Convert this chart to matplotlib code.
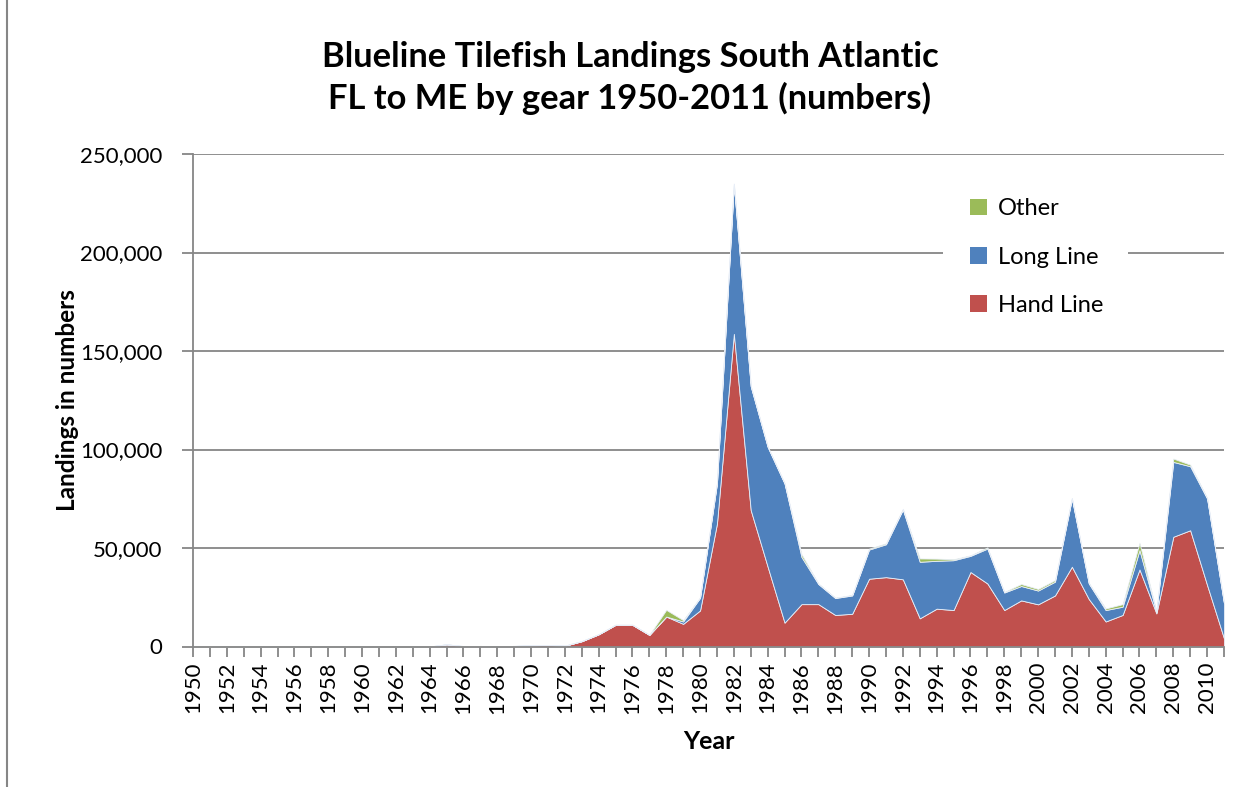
"""Blueline tilefish landings, South Atlantic FL to ME, by gear 1950-2011 (stacked area)."""

import matplotlib
matplotlib.use("Agg")
import matplotlib.pyplot as plt
from matplotlib.lines import Line2D
from matplotlib.patches import Rectangle
from matplotlib.ticker import FuncFormatter, MultipleLocator


YEARS = list(range(1950, 2012))

HAND_LINE = [
    0, 0, 0, 0, 0, 0, 0, 0, 0, 0,                       # 1950-1959
    0, 0, 0, 0, 0, 1100, 200, 300, 200, 300,            # 1960-1969
    600, 800, 400, 2700, 6200, 11000, 11000, 5900, 15200, 11500,   # 1970-1979
    18300, 62400, 158700, 69200, 40500, 12100, 21500, 21500, 16000, 16600,  # 1980-1989
    34400, 35200, 34100, 14300, 19200, 18500, 37800, 32000, 18500, 23400,   # 1990-1999
    21400, 25900, 40500, 24100, 12700, 16000, 39100, 16800, 55700, 59000,   # 2000-2009
    31200, 4100,                                        # 2010-2011
]
LONG_LINE = [
    0, 0, 0, 0, 0, 0, 0, 0, 0, 0,
    0, 0, 0, 0, 0, 0, 0, 0, 0, 0,
    0, 0, 0, 0, 0, 0, 0, 0, 0, 1200,
    6400, 20300, 76000, 62800, 60800, 70600, 24000, 10200, 8600, 9300,
    14800, 16700, 35400, 28700, 24300, 25300, 8200, 17700, 8900, 7300,
    7000, 7000, 34600, 7900, 5800, 4200, 9800, 800, 38000, 32500,
    43900, 17800,
]
OTHER = [
    0, 0, 0, 0, 0, 0, 0, 0, 0, 0,
    0, 0, 0, 0, 0, 0, 0, 0, 0, 0,
    0, 0, 0, 0, 0, 0, 0, 0, 3400, 700,
    200, 300, 300, 300, 300, 300, 1400, 300, 200, 300,
    500, 500, 400, 1700, 1100, 500, 300, 600, 300, 1000,
    800, 800, 300, 300, 800, 1300, 3700, 200, 1700, 800,
    400, 200,
]

SERIES = ["Hand Line", "Long Line", "Other"]
COLORS = ["#C0504D", "#4F81BD", "#9BBB59"]
GRID = "#868686"
FONT = "Lato"

W, H = 1252, 787


def fx(px):
    return px / W


def fy(py):
    return 1 - py / H


def main() -> None:
    plt.rcParams["font.family"] = FONT
    fig = plt.figure(figsize=(W / 100, H / 100), dpi=100)
    ax = fig.add_axes([fx(193), fy(646.5), fx(1224) - fx(193), fy(154) - fy(646.5)])

    ax.stackplot(YEARS, HAND_LINE, LONG_LINE, OTHER, colors=COLORS, labels=SERIES,
                 edgecolor="#e8eef7", linewidth=0.6, zorder=3)

    ax.set_xlim(1950, 2011)
    ax.set_ylim(0, 250000)
    ax.yaxis.set_major_locator(MultipleLocator(50000))
    ax.yaxis.set_major_formatter(FuncFormatter(lambda v, _: f"{int(v):,}"))
    ax.set_xticks(YEARS, minor=True)
    ax.set_xticks(YEARS[::2])
    ax.set_xticklabels([str(y) for y in YEARS[::2]], rotation=90)
    ax.tick_params(axis="x", which="both", length=7, width=1.3, color=GRID, direction="out",
                   labelsize=16, pad=4)
    ax.tick_params(axis="y", length=8, width=1.3, color=GRID, direction="out",
                   labelsize=16, pad=14)

    ax.grid(axis="y", color=GRID, lw=1.3, zorder=1)
    ax.set_axisbelow(True)
    for side in ("top", "right"):
        ax.spines[side].set_visible(False)
    for side in ("left", "bottom"):
        ax.spines[side].set_color(GRID)
        ax.spines[side].set_linewidth(1.3)
        ax.spines[side].set_zorder(4)

    ax.set_ylabel("Landings in numbers", fontsize=17.5, fontweight="bold", labelpad=1)
    ax.set_xlabel("Year", fontsize=18, fontweight="bold", labelpad=12)
    fig.text(fx(630), fy(78), "Blueline Tilefish Landings South Atlantic\nFL to ME by gear 1950-2011 (numbers)",
             ha="center", va="center", fontsize=24.8, fontweight="bold", linespacing=1.3)

    # white legend area that hides the gridline behind it
    ax.add_patch(Rectangle((fx(943), fy(330)), fx(1128) - fx(943), fy(180) - fy(330),
                           transform=fig.transFigure, facecolor="white", edgecolor="none",
                           zorder=2, clip_on=False))
    handles, labels = ax.get_legend_handles_labels()
    leg = ax.legend(handles[::-1], labels[::-1], loc="upper left",
                    bbox_to_anchor=(fx(961), fy(189)), bbox_transform=fig.transFigure,
                    fontsize=17, frameon=False,
                    handlelength=0.7, handleheight=0.7, handletextpad=0.45,
                    labelspacing=1.15, borderpad=0.4, borderaxespad=0)
    leg.set_zorder(5)
    for patch in leg.get_patches():
        patch.set_edgecolor("none")

    # chart-area border on the left edge
    fig.add_artist(Line2D([fx(7), fx(7)], [0, 1], color=GRID, lw=1.5))

    fig.savefig("out.png", dpi=100)


if __name__ == "__main__":
    main()
